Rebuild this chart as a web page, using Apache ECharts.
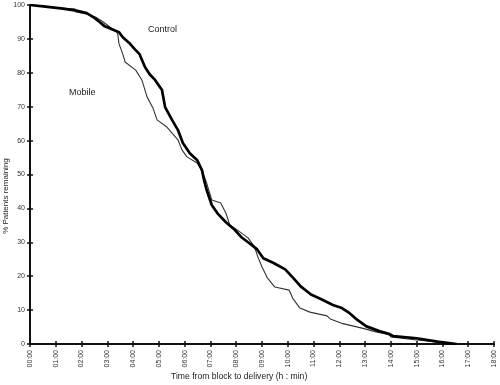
<!DOCTYPE html>
<html>
<head>
<meta charset="utf-8">
<script src="https://cdn.jsdelivr.net/npm/echarts@6/dist/echarts.min.js"></script>
<style>html,body{margin:0;padding:0;background:#fff}#c{width:500px;height:385px}</style>
</head>
<body>
<div id="c"></div>
<script>
const xTickLabels = ['00:00','01:00','02:00','03:00','04:00','05:00','06:00','07:00','08:00','09:00','10:00','11:00','12:00','13:00','14:00','15:00','16:00','17:00','18:00'];
const controlTime = [0,0.6,1.2,1.75,2.2,2.5,2.7,2.9,3.2,3.45,3.6,3.85,4.07,4.25,4.46,4.65,4.85,5.12,5.24,5.51,5.74,5.93,6.2,6.48,6.67,6.75,6.85,7.05,7.3,7.6,7.95,8.2,8.5,8.8,9.05,9.45,9.9,10.2,10.5,10.9,11.3,11.75,12.1,12.4,12.7,13.05,13.55,13.95,14.1,15.0,15.8,16.55];
const controlPct  = [100,99.5,99.0,98.4,97.6,96.2,95.0,93.7,92.8,92.0,90.5,88.8,86.9,85.5,81.7,79.5,77.9,74.9,69.9,66.1,63.1,59.3,56.3,54.3,51.3,48.4,45.5,41.0,38.3,35.9,33.6,31.5,29.8,28.0,25.3,23.9,22.0,19.6,17.0,14.6,13.2,11.5,10.6,9.1,7.1,5.2,3.8,2.9,2.3,1.7,0.7,0];
const mobileTime = [0,0.6,1.2,1.75,1.75,2.3,2.55,2.8,3.05,3.3,3.4,3.45,3.6,3.69,4.1,4.34,4.54,4.77,4.93,5.31,5.74,5.9,6.09,6.48,6.67,6.85,7.05,7.4,7.6,7.75,8.05,8.46,8.7,8.84,9.0,9.2,9.5,10.05,10.2,10.47,10.86,11.52,11.65,12.14,12.92,13.46,13.9,14.0,15.0,16.55];
const mobilePct  = [100,99.5,99.1,98.8,98.0,97.2,96.4,95.2,93.8,92.4,91.7,88.6,85.5,83.2,80.8,77.9,72.9,69.6,66.1,64.0,60.2,57.2,55.2,53.4,51.3,47.5,42.5,41.6,38.6,35.1,33.6,31.3,28.8,25.7,22.7,19.6,16.8,15.9,13.4,10.6,9.4,8.3,7.4,6.0,4.6,3.5,2.9,2.1,1.2,0];
const seriesNames = ['Control','Mobile'];

const controlData = controlTime.map((t,i)=>[t,controlPct[i]]);
const mobileData = mobileTime.map((t,i)=>[t,mobilePct[i]]);

const chart = echarts.init(document.getElementById('c'), null, {renderer:'canvas'});
const axLabel = {color:'#333', fontSize:7, fontFamily:'Liberation Sans, Arial, sans-serif'};
chart.setOption({
  animation:false,
  backgroundColor:'#fff',
  grid:{left:30,right:6,top:5,bottom:41,containLabel:false},
  xAxis:[{
    type:'value',min:0,max:18,interval:1,
    axisLine:{show:true,lineStyle:{color:'#111',width:2}},
    axisTick:{show:true,length:3,lineStyle:{color:'#111',width:1.5}},
    splitLine:{show:false},
    axisLabel:Object.assign({rotate:90,margin:6,formatter:v=>xTickLabels[Math.round(v)]},axLabel)
  },{
    type:'value',min:0,max:18,interval:1,position:'bottom',
    axisLine:{show:false},
    axisTick:{show:true,inside:true,length:3,lineStyle:{color:'#111',width:1.5}},
    axisLabel:{show:false},splitLine:{show:false}
  }],
  yAxis:[{
    type:'value',min:0,max:100,interval:10,
    axisLine:{show:true,lineStyle:{color:'#111',width:2}},
    axisTick:{show:true,length:3,lineStyle:{color:'#111',width:1.5}},
    splitLine:{show:false},
    axisLabel:Object.assign({margin:5},axLabel)
  },{
    type:'value',min:0,max:100,interval:10,position:'left',
    axisLine:{show:false},
    axisTick:{show:true,inside:true,length:3,lineStyle:{color:'#111',width:1.5}},
    axisLabel:{show:false},splitLine:{show:false}
  }],
  series:[{
    name:seriesNames[0],type:'line',data:controlData,showSymbol:false,
    xAxisIndex:0,yAxisIndex:0,
    lineStyle:{color:'#000',width:2.7},z:3
  },{
    name:seriesNames[1],type:'line',data:mobileData,showSymbol:false,
    xAxisIndex:0,yAxisIndex:0,
    lineStyle:{color:'#333',width:1.1},z:2
  }],
  graphic:[
    {type:'text',left:148,top:25,style:{text:'Control',fontSize:9,fill:'#222',fontFamily:'Liberation Sans, Arial, sans-serif'}},
    {type:'text',left:69,top:88,style:{text:'Mobile',fontSize:9,fill:'#222',fontFamily:'Liberation Sans, Arial, sans-serif'}},
    {type:'text',x:171,y:372,style:{text:'Time from block to delivery (h : min)',fontSize:8.6,fill:'#222',fontFamily:'Liberation Sans, Arial, sans-serif'}},
    {type:'text',x:6,y:196,rotation:Math.PI/2,style:{text:'% Patients remaining',fontSize:8,fill:'#222',align:'center',verticalAlign:'middle',fontFamily:'Liberation Sans, Arial, sans-serif'}}
  ]
});
</script>
</body>
</html>
